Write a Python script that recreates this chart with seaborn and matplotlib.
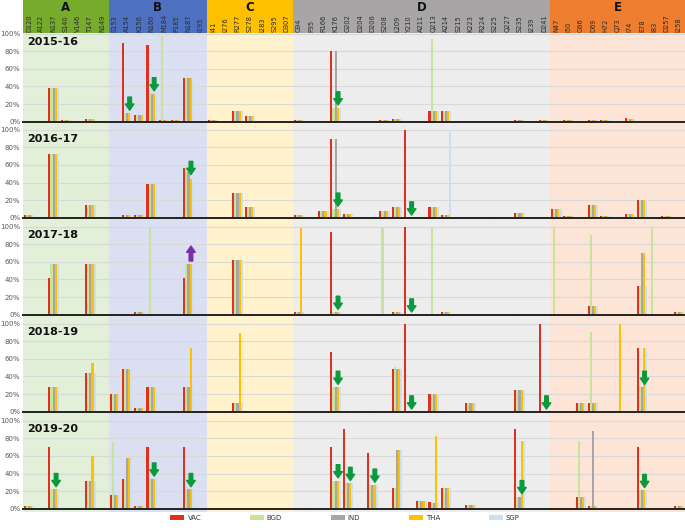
import numpy as np
import pandas as pd
import matplotlib
matplotlib.use("Agg")
import matplotlib.pyplot as plt
import seaborn as sns
from matplotlib.transforms import blended_transform_factory
from matplotlib.patches import Patch

sites = ["D120","A122","N137","S140","V146","T147","N149",
         "S153","A154","K156","N160","M184","P185","N187","I195",
         "I41","I276","R277","S278","I283","S295","D307",
         "G94","F95","R166","K176","G202","D204","D206","S208","L209","Y210","A211",
         "Q213","A214","S215","K223","R224","S225","Q227","S235","I239","D241",
         "N47","I50","G66","D69","H72","Q73","I74","E78","I83","D257","I258"]
groups = ["A", "B", "C", "D", "E"]
group_sizes = [7, 8, 7, 21, 11]
series = ["VAC", "BGD", "IND", "THA", "SGP"]
years = ["2015-16", "2016-17", "2017-18", "2018-19", "2019-20"]

# ---- 2015-16
vac_1516 = [0,0,38,2,0,3,1, 0,89,8,87,2,2,50,0, 2,0,12,6,0,0,0, 2,0,0,80,0,0,0,2,3,0,0,12,12,0,0,0,0,0,2,0,2, 0,2,0,2,2,0,4,0,0,0,0]
bgd_1516 = [0,0,38,2,0,3,1, 0,10,8,32,97,2,50,0, 2,0,12,6,0,0,0, 2,0,0,16,0,0,0,2,3,0,0,94,12,0,0,0,0,0,2,0,2, 0,2,0,2,2,0,3,0,0,0,0]
ind_1516 = [0,0,38,2,0,3,1, 0,10,8,32,2,2,50,0, 2,0,12,6,0,0,0, 2,0,0,80,0,0,0,2,3,0,0,12,12,0,0,0,0,0,2,0,2, 0,2,0,2,2,0,3,0,0,0,0]
tha_1516 = [0,0,38,2,0,3,1, 0,10,8,32,2,2,50,0, 2,0,12,6,0,0,0, 2,0,0,16,0,0,0,2,3,0,0,12,12,0,0,0,0,0,2,0,2, 0,2,0,2,2,0,3,0,0,0,0]
sgp_1516 = [0,0,38,2,0,3,1, 0,10,8,32,2,2,50,0, 2,0,12,6,0,0,0, 2,0,0,16,0,0,0,2,3,0,0,12,12,0,0,0,0,0,2,0,2, 0,2,0,2,2,0,3,0,0,0,0]
# ---- 2016-17
vac_1617 = [3,1,72,0,1,14,1, 0,3,3,38,0,0,57,0, 0,0,28,12,0,0,0, 3,0,8,90,4,1,1,8,12,100,0,12,3,1,0,1,1,0,5,1,1, 10,2,0,14,2,0,4,20,0,2,0]
bgd_1617 = [3,1,72,0,1,14,1, 0,3,3,38,0,0,57,0, 0,0,28,12,0,0,0, 3,0,8,10,4,1,1,8,12,0,0,12,3,1,0,1,1,0,5,1,1, 10,2,0,14,2,0,4,20,0,2,0]
ind_1617 = [3,1,72,0,1,14,1, 0,3,3,38,0,0,52,0, 0,0,28,12,0,0,0, 3,0,8,90,4,1,1,8,12,0,0,12,3,1,0,1,1,0,5,1,1, 10,2,0,14,2,0,4,20,0,2,0]
tha_1617 = [3,1,72,0,1,14,1, 0,3,3,38,0,0,44,0, 0,0,28,12,0,0,0, 3,0,8,10,4,1,1,8,12,0,0,12,3,1,0,1,1,0,5,1,1, 10,2,0,14,2,0,4,20,0,2,0]
sgp_1617 = [3,1,72,0,1,14,1, 0,3,3,38,0,0,44,0, 0,0,28,12,0,0,0, 3,0,8,10,4,1,1,8,12,0,0,12,97,1,0,1,1,0,5,1,1, 10,2,0,14,2,0,4,20,0,2,0]
# ---- 2017-18
vac_1718 = [0,0,42,0,0,58,0, 0,1,3,1,0,0,42,0, 0,0,62,0,0,0,1, 3,0,0,94,0,0,0,0,3,100,0,0,3,1,0,0,0,0,1,0,0, 0,0,0,10,0,0,0,33,0,0,3]
bgd_1718 = [0,0,58,0,0,58,0, 0,1,3,100,0,0,58,0, 0,0,62,0,0,0,1, 3,0,0,3,0,0,0,100,3,0,0,100,3,1,0,0,0,0,1,0,0, 100,0,0,90,0,0,0,33,100,0,3]
ind_1718 = [0,0,58,0,0,58,0, 0,1,3,1,0,0,58,0, 0,0,62,0,0,0,1, 3,0,0,3,0,0,0,0,3,0,0,0,3,1,0,0,0,0,1,0,0, 0,0,0,10,0,0,0,70,0,0,3]
tha_1718 = [0,0,58,0,0,58,0, 0,1,3,1,0,0,58,0, 0,0,62,0,0,0,1, 98,0,0,3,0,0,0,0,3,0,0,0,3,1,0,0,0,0,1,0,0, 0,0,0,10,0,0,0,70,0,0,3]
sgp_1718 = [0,0,58,0,0,58,0, 0,1,3,1,0,0,58,0, 0,0,62,0,0,0,1, 3,0,0,3,0,0,0,0,3,0,0,0,3,1,0,0,0,0,1,0,0, 0,0,0,10,0,0,0,33,0,0,3]
# ---- 2018-19
vac_1819 = [0,0,28,0,0,44,0, 20,48,4,28,0,0,28,1, 0,0,10,1,0,1,0, 0,0,0,68,1,0,1,0,48,100,0,20,1,0,10,0,0,0,25,0,100, 0,0,10,10,0,0,0,72,0,0,0]
bgd_1819 = [0,0,28,0,0,44,0, 20,48,4,28,0,0,28,1, 0,0,10,1,0,1,0, 0,0,0,28,1,0,1,0,51,0,0,20,1,0,10,0,0,0,25,0,0, 0,0,10,90,0,0,0,28,0,0,0]
ind_1819 = [0,0,28,0,0,44,0, 20,48,4,28,0,0,28,1, 0,0,10,1,0,1,0, 0,0,0,28,1,0,1,0,48,0,0,20,1,0,10,0,0,0,25,0,0, 0,0,10,10,0,0,0,28,0,0,0]
tha_1819 = [0,0,28,0,0,55,0, 20,48,4,28,0,0,72,1, 0,0,89,1,0,1,0, 0,0,0,28,1,0,1,0,48,0,0,20,1,0,10,0,0,0,25,0,0, 0,0,10,10,0,100,0,72,0,0,0]
sgp_1819 = [0,0,28,0,0,44,0, 20,48,4,28,0,0,28,1, 0,0,10,1,0,1,0, 0,0,0,28,1,0,1,0,48,0,0,20,1,0,10,0,0,0,25,0,0, 0,0,10,10,0,0,0,72,0,0,0]
# ---- 2019-20
vac_1920 = [3,0,70,0,0,32,0, 16,34,3,70,0,0,70,0, 0,0,1,0,1,0,1, 0,1,0,70,91,0,63,0,23,0,9,8,23,0,4,0,0,1,91,0,1, 0,1,13,3,0,0,0,70,0,0,3]
bgd_1920 = [3,0,22,0,0,32,0, 76,34,3,34,0,0,22,0, 0,0,1,0,1,0,1, 0,1,0,32,29,0,27,0,23,0,9,7,23,0,4,0,0,1,13,0,1, 0,1,77,3,0,0,0,21,0,0,3]
ind_1920 = [3,0,22,0,0,32,0, 16,58,3,34,0,0,22,0, 0,0,1,0,1,0,1, 0,1,0,32,29,0,27,0,67,0,9,7,23,0,4,0,0,1,13,0,1, 0,1,13,88,0,0,0,21,0,0,3]
tha_1920 = [3,0,22,0,0,60,0, 16,58,3,34,0,0,22,0, 0,0,1,0,1,0,1, 0,1,0,32,29,0,27,0,67,0,9,83,23,0,4,0,0,1,77,0,1, 0,1,13,3,0,0,0,21,0,0,3]
sgp_1920 = [3,0,22,0,0,32,0, 16,58,3,34,0,0,22,0, 0,0,1,0,1,0,1, 0,1,0,32,29,0,27,0,67,0,9,7,23,0,4,0,0,1,77,0,1, 0,1,13,3,0,0,0,21,0,0,3]

# arrows (site, value of the bar top they point at)
down_arrows = {
    "2015-16": [("A154", 10), ("N160", 32), ("K176", 16)],
    "2016-17": [("N187", 46), ("K176", 10), ("Y210", 0)],
    "2017-18": [("K176", 3), ("Y210", 0)],
    "2018-19": [("K176", 28), ("Y210", 0), ("D241", 0), ("E78", 28)],
    "2019-20": [("N137", 22), ("N160", 34), ("N187", 22), ("K176", 32),
                ("G202", 29), ("D206", 27), ("S235", 14), ("E78", 21)],
}
up_arrows = {"2017-18": [("N187", 58)]}

year_data = {
    "2015-16": [vac_1516, bgd_1516, ind_1516, tha_1516, sgp_1516],
    "2016-17": [vac_1617, bgd_1617, ind_1617, tha_1617, sgp_1617],
    "2017-18": [vac_1718, bgd_1718, ind_1718, tha_1718, sgp_1718],
    "2018-19": [vac_1819, bgd_1819, ind_1819, tha_1819, sgp_1819],
    "2019-20": [vac_1920, bgd_1920, ind_1920, tha_1920, sgp_1920],
}

series_colors = ["#e2301f", "#c8e49c", "#a6a6a6", "#ffc000", "#cddff3"]
header_colors = ["#76ab2b", "#4d71c0", "#ffc000", "#a7a5a5", "#ee7d2f"]
bg_colors = ["#e2efd9", "#dae0f2", "#fff2cc", "#ededed", "#fce4d6"]
green = "#0a9a3c"
purple = "#7a2fa6"

W, H = 685, 528
fig = plt.figure(figsize=(W / 100, H / 100), dpi=100)
left_px, right_px = 23, 685
xl = left_px / W
wl = (right_px - left_px) / W

def fy(px):
    return 1 - px / H

# group boundaries
bounds = np.cumsum([0] + group_sizes) - 0.5

# background axes
bg = fig.add_axes([xl, fy(512), wl, (512 - 33) / H])
bg.set_xlim(-0.5, len(sites) - 0.5)
bg.set_ylim(0, 1)
for i in range(5):
    bg.axvspan(bounds[i], bounds[i + 1], color=bg_colors[i], lw=0)
bg.axis("off")

# header axes
hd = fig.add_axes([xl, fy(33), wl, 33 / H])
hd.set_xlim(-0.5, len(sites) - 0.5)
hd.set_ylim(0, 1)
for i in range(5):
    hd.axvspan(bounds[i], bounds[i + 1], color=header_colors[i], lw=0)
    hd.text((bounds[i] + bounds[i + 1]) / 2, 0.77, groups[i], ha="center", va="center",
            fontsize=8.5, fontweight="bold", color="#111111")
for j, s in enumerate(sites):
    hd.text(j, 0.04, s, rotation=90, ha="center", va="bottom", fontsize=4.8, color="#2b2b2b")
hd.axis("off")

zero_px = [121.7, 217.7, 314.7, 411.7, 508.7]
full_px = 88.0
top_px = 92.0

for k, yr in enumerate(years):
    ax = fig.add_axes([xl, fy(zero_px[k]), wl, top_px / H])
    ax.set_facecolor("none")
    vals = year_data[yr]
    df = pd.DataFrame({
        "site": sites * len(series),
        "series": np.repeat(series, len(sites)),
        "value": np.concatenate([np.asarray(v, dtype=float) for v in vals]),
    })
    sns.barplot(data=df, x="site", y="value", hue="series", order=sites,
                hue_order=series, palette=series_colors, width=0.86,
                saturation=1, errorbar=None, linewidth=0, ax=ax,
                legend=(k == len(years) - 1))
    ax.set_xlim(-0.5, len(sites) - 0.5)
    ax.set_ylim(0, 100 * top_px / full_px)
    ax.set_yticks(np.arange(0, 101, 20))
    ax.set_yticklabels([f"{t}%" for t in range(0, 101, 20)], fontsize=5, color="#595959")
    ax.tick_params(axis="y", length=0, pad=2)
    ax.set_xticks([])
    ax.set_xlabel("")
    ax.set_ylabel("")
    ax.yaxis.grid(True, color="#d9d9d9", lw=0.8)
    ax.set_axisbelow(True)
    for sp in ["top", "left", "right"]:
        ax.spines[sp].set_visible(False)
    ax.spines["bottom"].set_color("#222222")
    ax.spines["bottom"].set_linewidth(1.4)
    tr = blended_transform_factory(ax.transAxes, ax.transData)
    ax.text(0.006, 90, yr, transform=tr, ha="left", va="center",
            fontsize=8, fontweight="bold", color="#111111")
    for site, v in down_arrows.get(yr, []):
        x = sites.index(site) + 0.2
        ax.annotate("", xy=(x, v + 3), xytext=(0, 9.5), textcoords="offset points",
                    arrowprops=dict(arrowstyle="simple,head_length=0.45,head_width=0.62,tail_width=0.26",
                                    color=green, shrinkA=0, shrinkB=0, mutation_scale=10),
                    annotation_clip=False)
    for site, v in up_arrows.get(yr, []):
        x = sites.index(site) + 0.2
        ax.annotate("", xy=(x, v + 20), xytext=(x, v + 3),
                    arrowprops=dict(arrowstyle="simple,head_length=0.45,head_width=0.62,tail_width=0.26",
                                    color=purple, shrinkA=0, shrinkB=0, mutation_scale=10),
                    annotation_clip=False)
    if k == len(years) - 1:
        leg = ax.get_legend()
        if leg is not None:
            leg.remove()

handles = [Patch(facecolor=c, edgecolor="none") for c in series_colors]
fig.legend(handles, series, loc="center", bbox_to_anchor=(345 / W, fy(518)), ncol=5,
           frameon=False, fontsize=5, handlelength=2.0, handleheight=0.6,
           handletextpad=0.45, columnspacing=7.0, labelcolor="#333333")

fig.savefig("out.png", dpi=100)
